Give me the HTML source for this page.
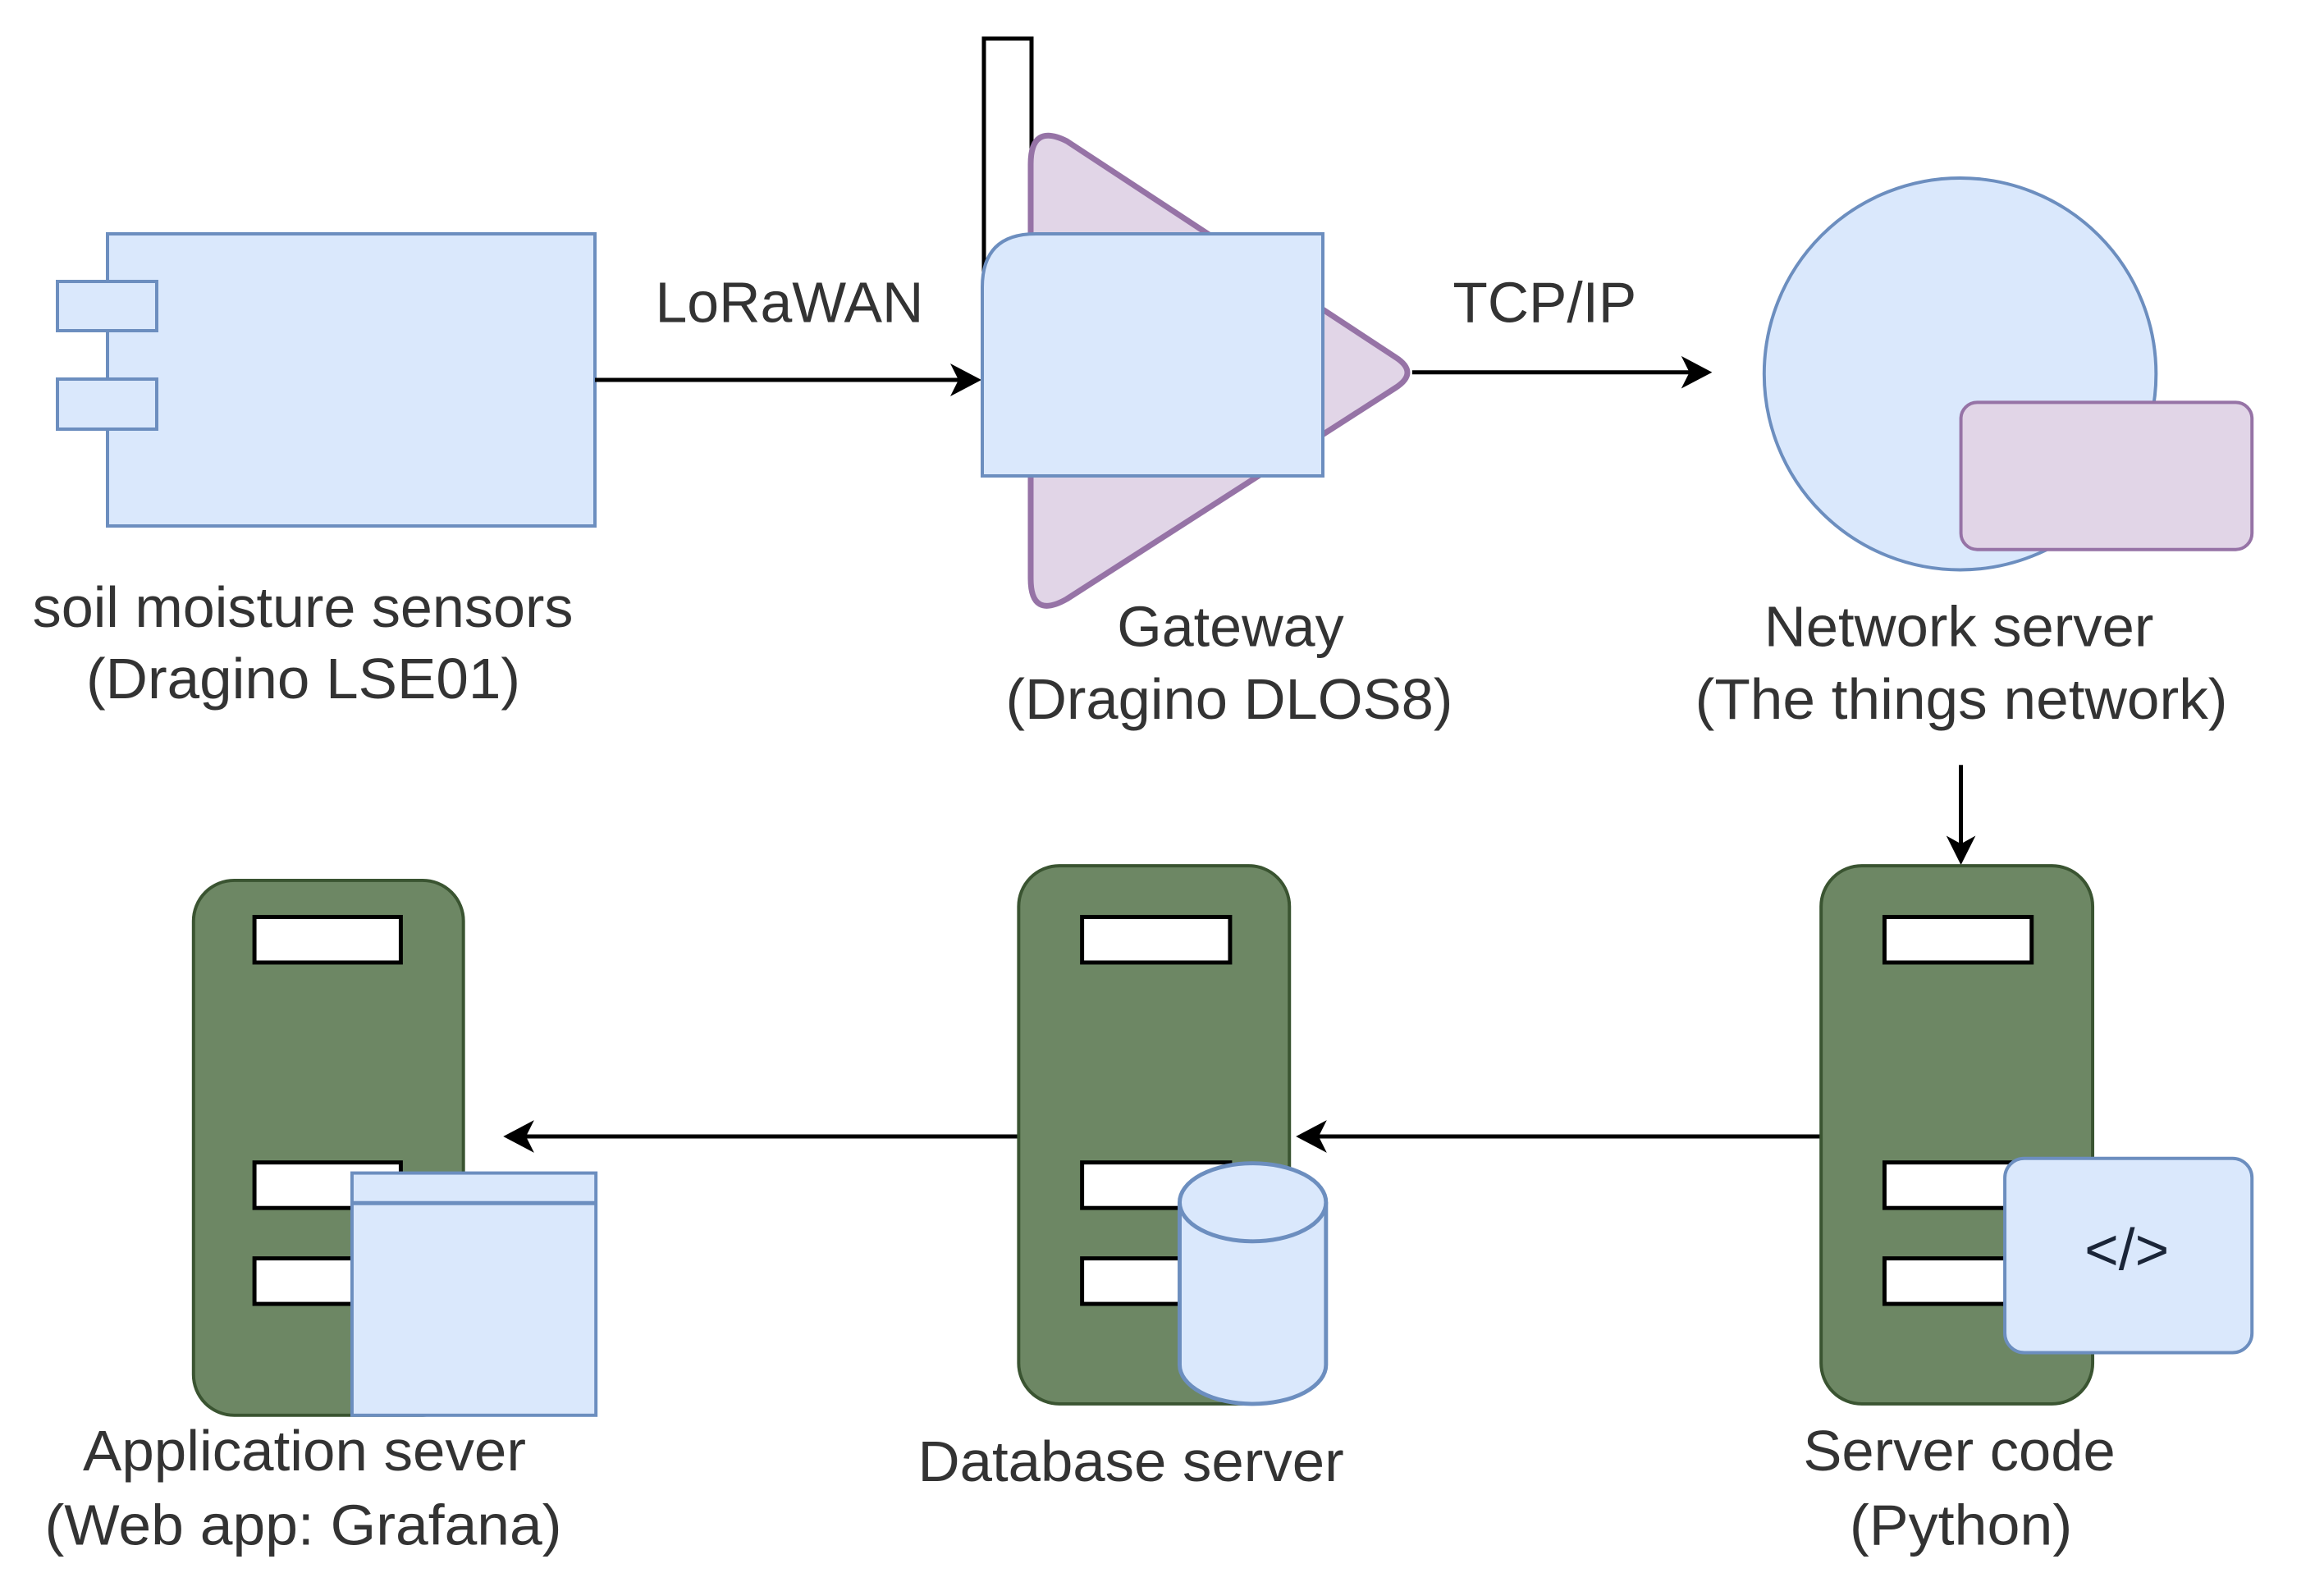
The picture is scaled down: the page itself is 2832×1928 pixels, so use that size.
<!DOCTYPE html>
<html><head><meta charset="utf-8"><style>html,body{margin:0;padding:0;background:#fff}svg{display:block}</style></head>
<body>
<svg width="2832" height="1928" viewBox="0 0 2832 1928" xmlns="http://www.w3.org/2000/svg" font-family="Liberation Sans, sans-serif">
<!-- sensor -->
<rect x="131" y="285" width="594" height="356" fill="#dae8fc" stroke="#6c8ebf" stroke-width="4"/>
<rect x="70" y="343" width="121" height="60" fill="#dae8fc" stroke="#6c8ebf" stroke-width="4"/>
<rect x="70" y="462" width="121" height="61" fill="#dae8fc" stroke="#6c8ebf" stroke-width="4"/>
<!-- arrow LoRa -->
<line x1="725" y1="463" x2="1170" y2="463" stroke="#000" stroke-width="5"/>
<polygon points="1196,463 1158,443 1168,463 1158,483" fill="#000"/>
<!-- gateway -->
<rect x="1199" y="47" width="58" height="330" fill="#fff" stroke="#000" stroke-width="5"/>
<path d="M1256,200 Q1256,150 1300,172 L1700,435 Q1730,454 1700,473 L1300,730 Q1256,755 1256,705 Z" fill="#e1d5e7" stroke="#9673a6" stroke-width="7" stroke-linejoin="round"/>
<path d="M1197,580 L1197,350 Q1197,285 1262,285 L1612,285 L1612,580 Z" fill="#dae8fc" stroke="#6c8ebf" stroke-width="4"/>
<g transform="scale(0.9907)">
<!-- arrow TCP -->
<line x1="1737" y1="458" x2="2080" y2="458" stroke="#000" stroke-width="5"/>
<polygon points="2106,458 2068,438 2078,458 2068,478" fill="#000"/>
<!-- network server -->
<circle cx="2411" cy="460" r="241" fill="#dae8fc" stroke="#6c8ebf" stroke-width="4"/>
<rect x="2412" y="495" width="358" height="181" rx="20" fill="#e1d5e7" stroke="#9673a6" stroke-width="4"/>
<!-- down arrow -->
<line x1="2412" y1="941" x2="2412" y2="1040" stroke="#000" stroke-width="5"/>
<polygon points="2412,1064 2394,1028 2412,1038 2430,1028" fill="#000"/>
<!-- horizontal arrows -->
<line x1="2244" y1="1398" x2="1620" y2="1398" stroke="#000" stroke-width="5"/>
<polygon points="1594,1398 1632,1378 1622,1398 1632,1418" fill="#000"/>
<line x1="1253" y1="1398" x2="645" y2="1398" stroke="#000" stroke-width="5"/>
<polygon points="619,1398 657,1378 647,1398 657,1418" fill="#000"/>
<!-- server code -->
<rect x="2240" y="1065" width="334" height="662" rx="50" fill="#6d8764" stroke="#3a5431" stroke-width="4"/>
<rect x="2318" y="1128" width="181" height="56" fill="#fff" stroke="#000" stroke-width="5"/>
<rect x="2318" y="1430" width="181" height="56" fill="#fff" stroke="#000" stroke-width="5"/>
<rect x="2318" y="1548" width="181" height="56" fill="#fff" stroke="#000" stroke-width="5"/>
<rect x="2466" y="1425" width="304" height="239" rx="24" fill="#dae8fc" stroke="#6c8ebf" stroke-width="4"/>
<text x="2616" y="1562" font-size="72" fill="#1a2538" text-anchor="middle">&lt;/&gt;</text>
<!-- database server -->
<rect x="1253" y="1065" width="333" height="662" rx="50" fill="#6d8764" stroke="#3a5431" stroke-width="4"/>
<rect x="1331" y="1128" width="182" height="56" fill="#fff" stroke="#000" stroke-width="5"/>
<rect x="1331" y="1430" width="182" height="56" fill="#fff" stroke="#000" stroke-width="5"/>
<rect x="1331" y="1548" width="182" height="56" fill="#fff" stroke="#000" stroke-width="5"/>
<path d="M1451,1479 L1451,1679 A90,48 0 0 0 1631,1679 L1631,1479" fill="#dae8fc" stroke="#6c8ebf" stroke-width="5"/>
<ellipse cx="1541" cy="1479" rx="90" ry="48" fill="#dae8fc" stroke="#6c8ebf" stroke-width="5"/>
<!-- application server -->
<rect x="238" y="1083" width="332" height="658" rx="50" fill="#6d8764" stroke="#3a5431" stroke-width="4"/>
<rect x="313" y="1128" width="180" height="56" fill="#fff" stroke="#000" stroke-width="5"/>
<rect x="313" y="1430" width="180" height="56" fill="#fff" stroke="#000" stroke-width="5"/>
<rect x="313" y="1548" width="180" height="56" fill="#fff" stroke="#000" stroke-width="5"/>
<rect x="433" y="1443" width="300" height="298" fill="#dae8fc" stroke="#6c8ebf" stroke-width="4"/>
<line x1="433" y1="1480" x2="733" y2="1480" stroke="#6c8ebf" stroke-width="5"/>
<!-- labels -->
<g fill="#333" font-size="70">
<text x="806" y="396" textLength="330" lengthAdjust="spacingAndGlyphs">LoRaWAN</text>
<text x="1787" y="396" textLength="226" lengthAdjust="spacingAndGlyphs">TCP/IP</text>
<text x="40" y="771" textLength="665" lengthAdjust="spacingAndGlyphs">soil moisture sensors</text>
<text x="106" y="859" textLength="534" lengthAdjust="spacingAndGlyphs">(Dragino LSE01)</text>
<text x="1374" y="795" textLength="279" lengthAdjust="spacingAndGlyphs">Gateway</text>
<text x="1237" y="884" textLength="550" lengthAdjust="spacingAndGlyphs">(Dragino DLOS8)</text>
<text x="2170" y="795" textLength="479" lengthAdjust="spacingAndGlyphs">Network server</text>
<text x="2085" y="884" textLength="655" lengthAdjust="spacingAndGlyphs">(The things network)</text>
<text x="102" y="1809" textLength="545" lengthAdjust="spacingAndGlyphs">Application sever</text>
<text x="55" y="1900" textLength="636" lengthAdjust="spacingAndGlyphs">(Web app: Grafana)</text>
<text x="1129" y="1822" textLength="524" lengthAdjust="spacingAndGlyphs">Database server</text>
<text x="2218" y="1809" textLength="384" lengthAdjust="spacingAndGlyphs">Server code</text>
<text x="2275" y="1900" textLength="274" lengthAdjust="spacingAndGlyphs">(Python)</text>
</g>
</g>
</svg>
</body></html>
